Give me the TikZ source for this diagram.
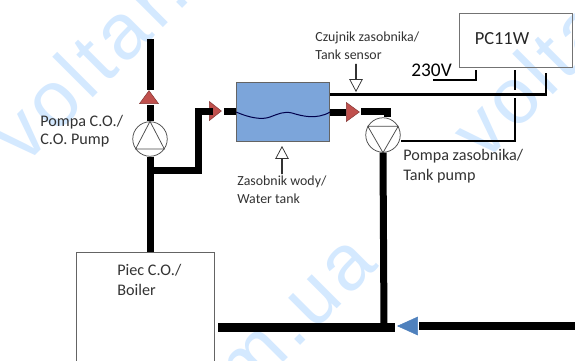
\documentclass[tikz,border=0pt]{standalone}
\usepackage{fontspec}
\setmainfont{Carlito}
\newfontfamily\markfont[LetterSpace=6]{Liberation Sans}
\usetikzlibrary{shapes.geometric,shapes.arrows}
\definecolor{markblue}{RGB}{212,233,255}
\definecolor{tankblue}{RGB}{124,165,218}
\definecolor{valvered}{RGB}{192,80,77}
\definecolor{valveblue}{RGB}{79,129,189}
\definecolor{boxgray}{RGB}{100,100,100}
\tikzset{
  pipe/.style={line width=0.14cm},
  wire/.style={line width=0.045cm},
  box/.style={draw=boxgray, line width=0.025cm, inner sep=0},
  pump/.style={circle, draw=black!70, line width=0.015cm, minimum size=0.69cm, inner sep=0},
  valve/.style={isosceles triangle, isosceles triangle stretches, inner sep=0, fill=valvered, draw=valvered!70!black, line width=0.01cm},
  hint/.style={single arrow, draw=black!80, fill=white, line width=0.015cm, inner sep=0, single arrow head extend=0.07cm, single arrow tip angle=56, minimum width=0.25cm, minimum height=0.54cm, single arrow head indent=0},
  label/.style={anchor=west, inner sep=0, font=\fontsize{7.9pt}{9pt}\selectfont, text=black!80},
  biglabel/.style={label, font=\fontsize{9.2pt}{11pt}\selectfont},
  watermark/.style={rotate=45, inner sep=0, text=markblue, font=\markfont\fontsize{45pt}{45pt}\selectfont}
}
\begin{document}
\begin{tikzpicture}[x=0.02cm,y=-0.02cm]
\clip (0,0) rectangle (575,360);
\fill[white] (0,0) rectangle (575,360);

% watermark
\node[watermark, anchor=base west] (markleft) at (24,167) {voltar.com.ua};
\node[watermark, anchor=base west] (markright) at (484,164) {voltar.com.ua};
\node[watermark, anchor=base east] (markbottom) at (380,266) {voltar.com.ua};

% boxes
\node[box, minimum width=2.26cm, minimum height=1.08cm, anchor=north west, draw=black!55] (controller) at (459,13) {};
\node[box, minimum width=2.76cm, minimum height=2.3cm, anchor=north west, fill=white] (boiler) at (76,252) {};
\node[box, minimum width=1.86cm, minimum height=1.18cm, anchor=north west, fill=tankblue] (tank) at (236,82) {};

% pumps
\node[pump] (pumpco) at (150,139) {};
\node[pump] (pumptank) at (383,135) {};
\draw[line width=0.015cm, black!70] (pumpco.90) -- (pumpco.215) -- (pumpco.325) -- cycle;
\draw[line width=0.015cm, black!70] (pumptank.150) -- (pumptank.30) -- (pumptank.270) -- cycle;

% valves
\node[valve, minimum width=0.38cm, minimum height=0.26cm, shape border rotate=90, anchor=apex] (valveco) at (149,90) {};
\node[valve, minimum width=0.38cm, minimum height=0.24cm, anchor=apex] (valvein) at (222,111) {};
\node[valve, minimum width=0.38cm, minimum height=0.26cm, anchor=apex] (valveout) at (360,112) {};
\node[valve, minimum width=0.36cm, minimum height=0.4cm, shape border rotate=180, anchor=apex, fill=valveblue, draw=valveblue] (valvereturn) at (397,326) {};

% pipes
\coordinate (flowtop) at (150,39);
\coordinate (valvecobottom) at (150,105);
\coordinate (teeco) at (150,170);
\coordinate (bendup) at (198,170);
\coordinate (bendin) at (198,111);
\coordinate (bendout) at (387,111);
\coordinate (returnleft) at (218,327);
\coordinate (returntee) at (384,327);
\coordinate (returnend) at (395,327);
\coordinate (returnstart) at (419,326);
\coordinate (returnright) at (575,326);
\draw[pipe] (flowtop) -- (150,90);
\draw[pipe] (valvecobottom) -- (pumpco.north);
\draw[pipe] (pumpco.south) -- (boiler.north -| pumpco);
\draw[pipe, line cap=rect] (teeco) -- (bendup) -- (bendin) -- (valvein.west);
\draw[pipe] (valvein.apex) ++(2,0) -- (tank.west |- valvein);
\draw[pipe] (tank.east |- valveout) -- (valveout.west);
\draw[pipe] (valveout.apex) ++(1,-1) -- (bendout) -- (pumptank.north -| bendout);
\draw[pipe] (pumptank.south) -- (returntee);
\draw[pipe, line width=0.18cm] (returnleft) -- (returnend);
\draw[pipe, line width=0.16cm] (returnright) -- (returnstart);

% water level
\draw[black!70!blue, line width=0.02cm] (tank.west |- 0,112) .. controls (250,118) and (262,120) .. (270,117) .. controls (278,114) and (284,111) .. (292,113) .. controls (302,116) and (316,120) .. (tank.east |- 0,112);

% wires
\coordinate (supply) at (433,80);
\coordinate (sensorend) at (546,73);
\coordinate (sensorbend) at (546,94.5);
\coordinate (wirebreak) at (515,90);
\coordinate (wirejoin) at (515,98);
\coordinate (wirebend) at (515,141);
\coordinate (supplytop) at (476,70);
\coordinate (wiretop) at (515,70);
\draw[wire] (supply) -| (supplytop);
\draw[wire] (wiretop) -- (wirebreak);
\draw[wire] (wirejoin) -- (wirebend) -- (pumptank.east |- wirebend);
\draw[wire] (tank.east |- sensorbend) -- (sensorbend) -- (sensorend);

% arrows
\node[hint, rotate=-90, anchor=east] (sensorarrow) at (356,92) {};
\node[hint, rotate=90, anchor=east] (tankarrow) at (282,146) {};

% labels
\node[anchor=center, inner sep=0, font=\fontsize{10.5pt}{12pt}\selectfont, text=black!85] (controllertext) at (502,39) {PC11W};
\node[anchor=west, inner sep=0, font=\fontsize{11pt}{12pt}\selectfont] (supplytext) at (411,70) {230V};
\node[label] (sensortext) at (315,38) {Czujnik zasobnika/};
\node[label] (sensortexten) at (315,55) {Tank sensor};
\node[biglabel] (pumptanktext) at (403,156) {Pompa zasobnika/};
\node[biglabel] (pumptanktexten) at (403,176) {Tank pump};
\node[biglabel] (pumpcotext) at (40,122) {Pompa C.O./};
\node[biglabel] (pumpcotexten) at (40,141) {C.O. Pump};
\node[label] (tanktext) at (237,182) {Zasobnik wody/};
\node[label] (tanktexten) at (237,199) {Water tank};
\node[biglabel] (boilertext) at (117,270) {Piec C.O./};
\node[biglabel] (boilertexten) at (117,290) {Boiler};

\end{tikzpicture}
\end{document}
